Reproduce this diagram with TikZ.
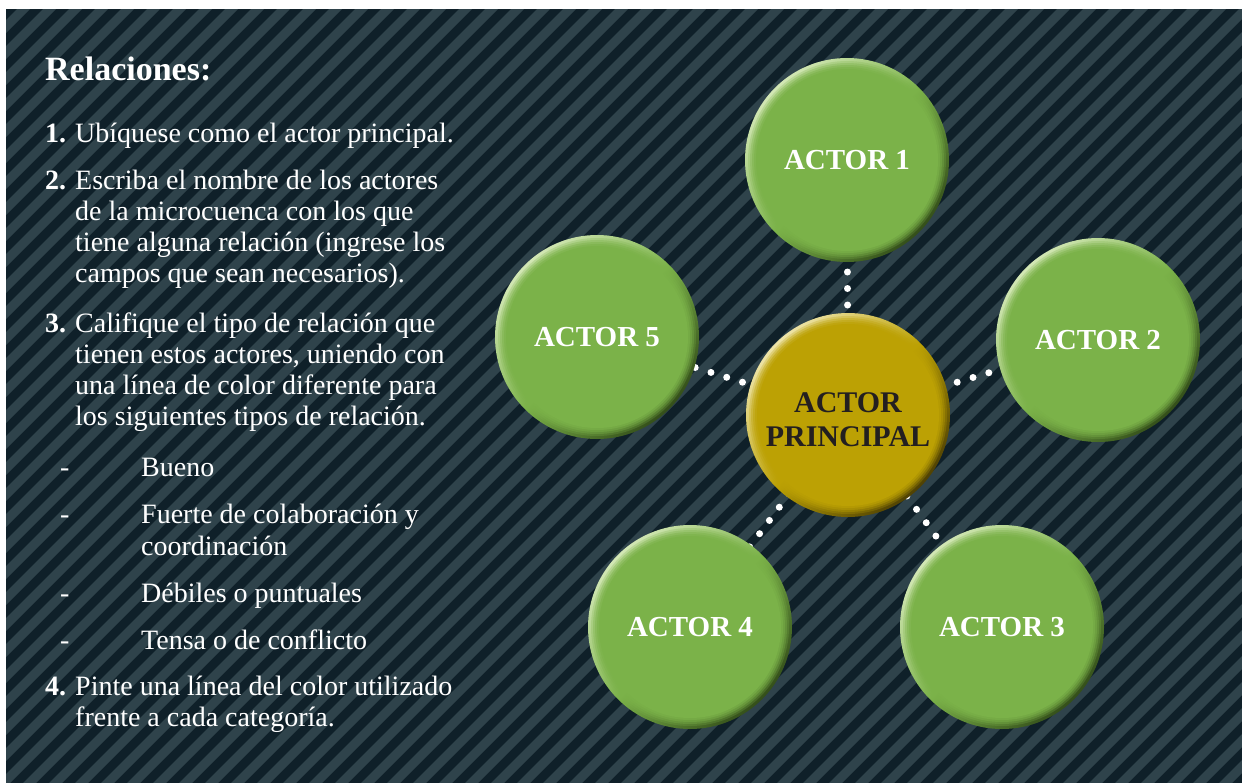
\documentclass[tikz,border=0pt]{standalone}
\usepackage{fontspec}
\setmainfont{Liberation Serif}
\pgfdeclarelayer{bg}
\pgfdeclarelayer{lines}
\pgfsetlayers{bg,lines,main}
\definecolor{darkbg}{HTML}{0F2029}
\definecolor{stripe}{HTML}{2F434B}
\definecolor{gmain}{HTML}{7BB249}
\definecolor{glight}{HTML}{D2E7B4}
\definecolor{gdark}{HTML}{344F1A}
\definecolor{ymain}{HTML}{BCA104}
\definecolor{ylight}{HTML}{EDE3A6}
\definecolor{ydark}{HTML}{4F4103}
\definecolor{inkdark}{HTML}{231F20}
\tikzset{
  txt/.style={anchor=base west, text=white, inner sep=0pt, font=\fontsize{28}{31}\selectfont},
  num/.style={txt, font=\fontsize{28}{31}\selectfont\bfseries},
  ttl/.style={txt, font=\fontsize{34}{37}\selectfont\bfseries},
  ball/.style n args={3}{circle, minimum size=204pt, inner sep=0pt,
    shading=axis, top color=#2, bottom color=#3, middle color=#1, shading angle=45,
    path picture={
      \fill[#1, opacity=0.25] (path picture bounding box.center) circle (99pt);
      \fill[#1, opacity=0.35] (path picture bounding box.center) circle (97pt);
      \fill[#1, opacity=0.45] (path picture bounding box.center) circle (95pt);
      \fill[#1, opacity=0.6] (path picture bounding box.center) circle (93pt);
      \fill[#1] (path picture bounding box.center) circle (91pt);
    }},
  gball/.style={ball={gmain}{glight}{gdark}, text=white, font=\fontsize{29}{32}\selectfont\bfseries},
  yball/.style={ball={ymain}{ylight}{ydark}},
  ylabel/.style={text=inkdark, align=center, inner sep=0pt, font=\fontsize{30}{34}\selectfont\bfseries},
  dots/.style={white, line width=7pt, line cap=round, dash pattern=on 0pt off 16.5pt, dash phase=#1},
}
\begin{document}
\begin{tikzpicture}[x=1pt, y=-1pt]
\useasboundingbox (0,0) rectangle (1242,782);
\begin{pgfonlayer}{bg}
  \fill[white] (-10,-10) rectangle (1252,792);
  \fill[darkbg] (6,9) rectangle (1252,792);
  \begin{scope}
    \clip (6,9) rectangle (1252,792);
    \foreach \c in {0,26,...,2100} {
      \fill[stripe] (\c,0) -- (\c+13,0) -- (\c+13-830,830) -- (\c-830,830) -- cycle;
    }
  \end{scope}
\end{pgfonlayer}

% left text
\node[ttl] (title) at (45,80) {Relaciones:};
\node[num] (n1) at (45,142) {1.};
\node[txt] (t1) at (75,142) {Ubíquese como el actor principal.};
\node[num] (n2) at (45,189) {2.};
\node[txt] (t2a) at (75,189) {Escriba el nombre de los actores};
\node[txt] (t2b) at (75,220) {de la microcuenca con los que};
\node[txt] (t2c) at (75,251) {tiene alguna relación (ingrese los};
\node[txt] (t2d) at (75,282) {campos que sean necesarios).};
\node[num] (n3) at (45,332) {3.};
\node[txt] (t3a) at (75,332) {Califique el tipo de relación que};
\node[txt] (t3b) at (75,363) {tienen estos actores, uniendo con};
\node[txt] (t3c) at (75,394) {una línea de color diferente para};
\node[txt] (t3d) at (75,425) {los siguientes tipos de relación.};
\node[txt] (d1) at (60,476) {-};
\node[txt] (b1) at (141,476) {Bueno};
\node[txt] (d2) at (60,523) {-};
\node[txt] (b2a) at (141,523) {Fuerte de colaboración y};
\node[txt] (b2b) at (141,555) {coordinación};
\node[txt] (d3) at (60,602) {-};
\node[txt] (b3) at (141,602) {Débiles o puntuales};
\node[txt] (d4) at (60,649) {-};
\node[txt] (b4) at (141,649) {Tensa o de conflicto};
\node[num] (n4) at (45,695) {4.};
\node[txt] (t4a) at (75,695) {Pinte una línea del color utilizado};
\node[txt] (t4b) at (75,726) {frente a cada categoría.};

% circles
\node[gball] (a1) at (847,160) {ACTOR 1};
\node[gball] (a2) at (1098,340) {ACTOR 2};
\node[gball] (a3) at (1002,627) {ACTOR 3};
\node[gball] (a4) at (690,627) {ACTOR 4};
\node[gball] (a5) at (597,337) {ACTOR 5};
\node[yball] (p) at (848,415) {};
\node[ylabel] (plabel) at ([yshift=-5pt]p.center) {ACTOR\\PRINCIPAL};

\begin{pgfonlayer}{lines}
  \draw[dots=5.5pt] (p.center) -- (a1.center);
  \draw[dots=1.5pt] (p.center) -- (a2.center);
  \draw[dots=15.4pt] (p.center) -- (a3.center);
  \draw[dots=0.5pt] (p.center) -- (a4.center);
  \draw[dots=5pt] (p.center) -- (a5.center);
\end{pgfonlayer}
\end{tikzpicture}
\end{document}
